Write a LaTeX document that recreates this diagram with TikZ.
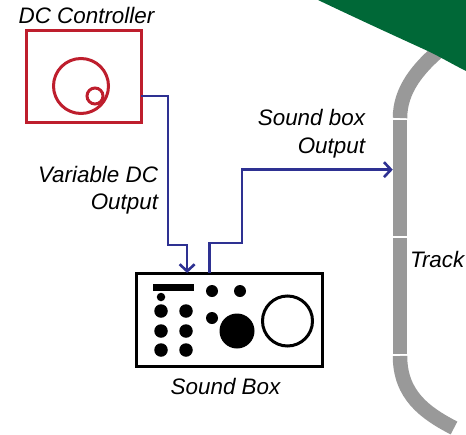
\documentclass[tikz,border=0pt]{standalone}
\usepackage{fontspec}
\setmainfont{Liberation Sans}
\usetikzlibrary{arrows.meta}
\definecolor{ctrlred}{HTML}{BE1E2D}
\definecolor{wireblue}{HTML}{2E3192}
\definecolor{trackgray}{HTML}{999999}
\definecolor{cornergreen}{HTML}{006837}
\tikzset{
    lbl/.style={inner sep=0pt,outer sep=0pt,font=\fontsize{22.4}{27.5}\selectfont\itshape},
    panel/.style={draw,rectangle,inner sep=0pt,outer sep=0pt,line width=3pt},
    rail/.style={fill=trackgray,rectangle,inner sep=0pt,outer sep=0pt,minimum width=14.5pt},
    curverail/.style={draw=trackgray,line width=14.5pt},
    wire/.style={draw=wireblue,line width=2.6pt},
    dot/.style={fill=black,circle,inner sep=0pt,outer sep=0pt},
}
\begin{document}
\begin{tikzpicture}[x=1pt,y=-1pt]
        \useasboundingbox (0,0) rectangle (466,434);
        % track
        \draw[curverail] (400,118) .. controls (400,90) and (418,68) .. (442,48);
        \draw[curverail] (400,356) .. controls (400,395) and (425,413) .. (454,428);
        \node[rail,minimum height=116pt] (trackupper) at (400,178) {};
        \node[rail,minimum height=116pt] (tracklower) at (400,296) {};
        \fill[cornergreen] (318,0) .. controls (360,20) and (395,36) .. (430,52) .. controls (442,58) and (454,65) .. (466,71) -- (466,0) -- cycle;
        % controller
        \node[panel,draw=ctrlred,minimum width=115pt,minimum height=92pt] (controller) at (83.5,76) {};
        \node[panel,draw=ctrlred,circle,minimum size=55pt] (knob) at (81,86) {};
        \node[panel,draw=ctrlred,circle,minimum size=16pt] (knobtip) at (95,96) {};
        % sound box
        \node[panel,minimum width=186pt,minimum height=93pt] (soundbox) at (229,319.5) {};
        \node[fill=black,rectangle,inner sep=0pt,minimum width=41pt,minimum height=7pt] (slot) at (173.5,287.5) {};
        \node[dot,minimum size=8.5pt] (led) at (161,297) {};
        \foreach \x/\cname in {161/a,186/b}
            \foreach \y in {311,331,350}
                \node[dot,minimum size=13.5pt] (btn\cname\y) at (\x,\y) {};
        \node[dot,minimum size=12pt] (sw1) at (212,291) {};
        \node[dot,minimum size=12pt] (sw2) at (240,291) {};
        \node[dot,minimum size=12pt] (sw3) at (212,318) {};
        \node[dot,minimum size=35pt] (bigknob) at (237,331) {};
        \node[panel,circle,minimum size=50pt] (speaker) at (287.5,321) {};
        % wires
        \draw[wire,-{Straight Barb[length=7pt,width=15pt]}] (controller.-19.2) -| (168,245) -| (soundbox.132.8);
        \draw[wire,-{Straight Barb[length=7pt,width=15pt]}] (soundbox.113.3) |- (242,243) |- (trackupper.131.2);
        % labels
        \node[lbl] (ctrllabel) at (86.5,15) {DC Controller};
        \node[lbl] (boxlabel) at (225.5,386) {Sound Box};
        \node[lbl,align=right,anchor=east] (varlabel) at (158,190) {Variable DC\\Output};
        \node[lbl,align=right,anchor=east] (outlabel) at (365,133.5) {Sound box\\Output};
        \node[lbl,anchor=west] (tracklabel) at (410,259) {Track};
\end{tikzpicture}
\end{document}
